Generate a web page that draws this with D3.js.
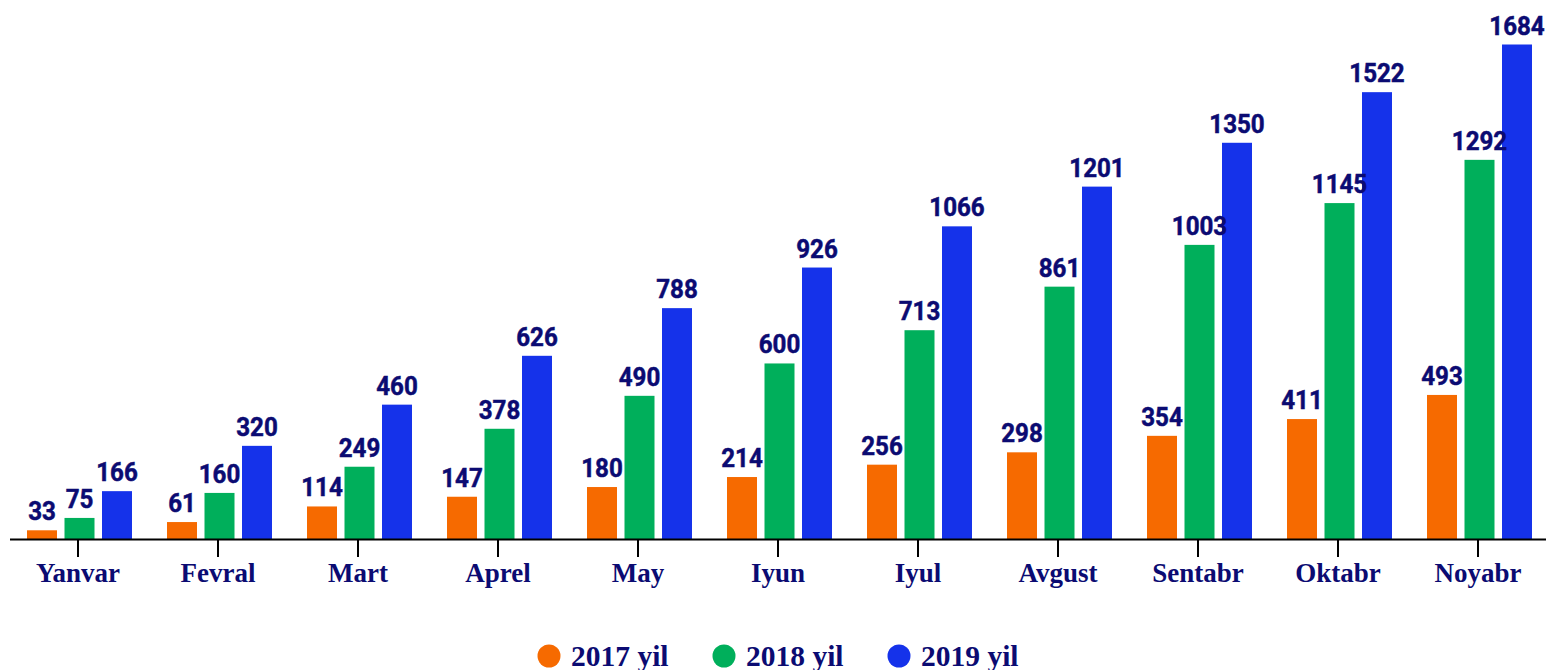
<!DOCTYPE html>
<html>
<head>
<meta charset="utf-8">
<script src="https://cdn.jsdelivr.net/npm/d3@7"></script>
<style>
  html, body { margin: 0; padding: 0; background: #ffffff; }
  svg { display: block; }
</style>
</head>
<body>
<svg id="chart" width="1546" height="670"></svg>
<script>
// Monthly totals per year
const months = ["Yanvar", "Fevral", "Mart", "Aprel", "May", "Iyun", "Iyul", "Avgust", "Sentabr", "Oktabr", "Noyabr"];
const seriesNames = ["2017 yil", "2018 yil", "2019 yil"];
const values2017 = [33, 61, 114, 147, 180, 214, 256, 298, 354, 411, 493];
const values2018 = [75, 160, 249, 378, 490, 600, 713, 861, 1003, 1145, 1292];
const values2019 = [166, 320, 460, 626, 788, 926, 1066, 1201, 1350, 1522, 1684];
const seriesColors = ["#F66A00", "#00AF5B", "#1532EA"];

const textColor = "#0b0b72";
const allSeries = [values2017, values2018, values2019];

const svg = d3.select("#chart");

const axisY = 539;
const x0 = d3.scaleBand().domain(months).range([9.5, 1549.5]).paddingInner(0).paddingOuter(0);
const x1 = d3.scaleBand().domain(seriesNames).range([17.5, 122.5]).paddingInner(0.2).paddingOuter(0);
const y = d3.scaleLinear().domain([0, d3.max(values2019)]).range([540, 44.5]);

const rows = months.map((m, i) => ({
  month: m,
  items: seriesNames.map((s, k) => ({ series: s, value: allSeries[k][i], color: seriesColors[k] }))
}));

const groups = svg.append("g").selectAll("g.month")
  .data(rows)
  .join("g")
  .attr("class", "month")
  .attr("transform", d => `translate(${x0(d.month)},0)`);

groups.selectAll("rect")
  .data(d => d.items)
  .join("rect")
  .attr("x", d => x1(d.series))
  .attr("width", x1.bandwidth())
  .attr("y", d => y(d.value))
  .attr("height", d => y(0) - y(d.value))
  .attr("fill", d => d.color);

groups.selectAll("text.value")
  .data(d => d.items)
  .join("text")
  .attr("class", "value")
  .attr("text-anchor", "middle")
  .attr("transform", d => `translate(${x1(d.series) + x1.bandwidth() / 2},${y(d.value) - 10}) scale(0.93,1)`)
  .attr("font-family", "Roboto, 'Noto Sans', sans-serif")
  .attr("font-weight", 700)
  .attr("font-size", 26)
  .attr("fill", textColor)
  .attr("stroke", textColor)
  .attr("stroke-width", 0.5)
  .text(d => d.value);

// Category axis
const xAxis = d3.axisBottom(x0).tickSizeOuter(0).tickSizeInner(18).tickPadding(0);
const axisG = svg.append("g").attr("transform", `translate(0,${axisY})`).call(xAxis);
axisG.select(".domain").attr("stroke", "#000").attr("stroke-width", 2);
axisG.selectAll(".tick line").attr("stroke", "#000").attr("stroke-width", 2).attr("transform", "translate(-1.5,0)");
axisG.selectAll(".tick text")
  .attr("x", -1.5)
  .attr("y", 43)
  .attr("dy", 0)
  .attr("font-family", "'Liberation Serif', 'Times New Roman', serif")
  .attr("font-weight", 700)
  .attr("font-size", 27)
  .attr("fill", textColor);

// Legend
const legend = svg.append("g").selectAll("g.legend")
  .data(seriesNames)
  .join("g")
  .attr("class", "legend")
  .attr("transform", (d, i) => `translate(${549 + i * 175},656)`);

legend.append("circle")
  .attr("r", 11.5)
  .attr("fill", (d, i) => seriesColors[i]);

legend.append("text")
  .attr("x", 22)
  .attr("y", 10)
  .attr("font-family", "'Liberation Serif', 'Times New Roman', serif")
  .attr("font-weight", 700)
  .attr("font-size", 29.5)
  .attr("fill", textColor)
  .text(d => d);
</script>
</body>
</html>
